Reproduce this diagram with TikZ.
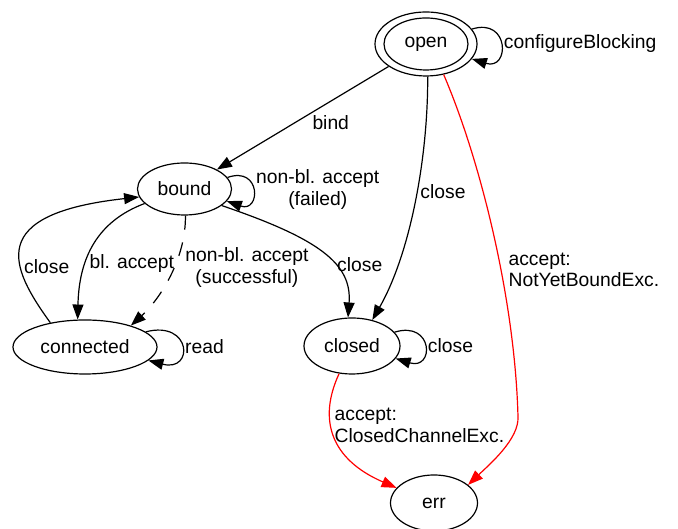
\documentclass[tikz,border=0pt]{standalone}
\usepackage{fontspec}
\setmainfont{Liberation Sans}
\usepackage{xcolor}
\usepackage{tikz}
\usetikzlibrary{positioning,shapes.geometric,arrows.meta}
\definecolor{edgeline}{HTML}{000000}
\definecolor{errline}{HTML}{FF0000}
\tikzset{
  % --- states (ellipses) ---
  fsmstate/.style={ellipse, draw=black, line width=1.2pt, inner sep=0pt,
                   minimum height=54pt},
  fsminit/.style={fsmstate, path picture={\draw[line width=1.2pt]
                  (path picture bounding box.center) ellipse (42pt and 26pt);}},
  % --- transitions ---
  trans/.style={line width=1.2pt, draw=edgeline,
                -{Triangle[length=15pt,width=11pt]}},
  errtrans/.style={trans, draw=errline},
  nbtrans/.style={trans, dash pattern=on 14pt off 13pt},
  lbl/.style={inner sep=3pt, align=left, text=black},
}

\begin{document}
\begin{tikzpicture}[x=1pt, y=1pt, font=\fontsize{19.3pt}{21.5pt}\selectfont]
  \useasboundingbox (0,0) rectangle (678,529);

  % --- states ---
  \node[fsminit, minimum width=102pt, minimum height=64pt] (open) at (426,485) {open};
  \node[fsmstate, minimum width=94pt, minimum height=52pt] (bound) at (184.5,340) {bound};
  \node[fsmstate, minimum width=144pt] (connected) at (85,182) {connected};
  \node[fsmstate, minimum width=96pt, minimum height=56pt] (closed) at (352,183) {closed};
  \node[fsmstate, minimum width=87pt, minimum height=56pt] (err) at (434,26) {err};
  \coordinate (errbend) at (518,112);

  % --- from open ---
  \draw[trans] (open.18) .. controls +(38,12) and +(38,-12) .. (open.-18)
        node[lbl, pos=0.5, right] {configureBlocking};
  \draw[trans] (open) -- node[lbl, pos=0.54, right=13pt] {bind} (bound);
  \draw[trans] (open.-87) .. controls (428,370) and (410,275) .. (closed.52)
        node[lbl, pos=0.45, right] {close};
  \draw[errtrans] (open.-60) .. controls (480,370) and (515,230) .. (errbend)
        node[lbl, pos=0.6, right=4pt] {accept:\\NotYetBoundExc.}
        .. controls (519,90) and (490,65) .. (err.28);

  % --- from bound ---
  \draw[trans] (bound.15) .. controls +(34,12) and +(34,-12) .. (bound.-16)
        node[lbl, pos=0.5, right, align=center] {non-bl. accept\\(failed)};
  \draw[trans] (bound.-24) .. controls (320,290) and (352,265) .. (closed.98)
        node[lbl, pos=0.6, right] {close};
  \draw[trans] (bound.200) .. controls (98,308) and (79,272) .. (connected.105)
        node[lbl, pos=0.65, right] {bl. accept};
  \draw[nbtrans] (bound.272) .. controls (186,270) and (160,230) .. (connected.25)
        node[lbl, pos=0.42, right=8pt, align=center] {non-bl. accept\\(successful)};

  % --- from connected ---
  \draw[trans] (connected.145) .. controls (10,262) and (-15,315) .. (bound.190)
        node[lbl, pos=0.35, right] {close};
  \draw[trans] (connected.14) .. controls +(46,12) and +(46,-12) .. (connected.-12)
        node[lbl, pos=0.5, right] {read};

  % --- from closed ---
  \draw[trans] (closed.18) .. controls +(39,12) and +(39,-12) .. (closed.-16)
        node[lbl, pos=0.5, right] {close};
  \draw[errtrans] (closed.-115) .. controls (318,110) and (330,70) .. (err.158)
        node[lbl, pos=0.4, right] {accept:\\ClosedChannelExc.};
\end{tikzpicture}
\end{document}
